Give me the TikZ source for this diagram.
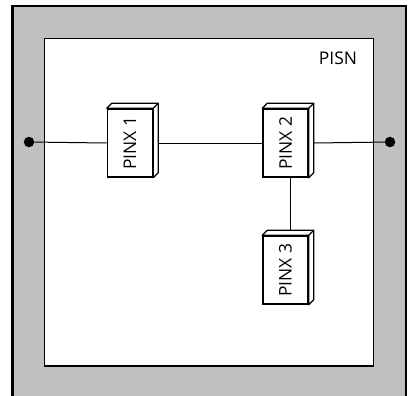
\documentclass[tikz,border=0pt]{standalone}
\usepackage{fontspec}
\setmainfont{Open Sans}
\usetikzlibrary{backgrounds}
\definecolor{frame}{HTML}{C0C0C0}
\tikzset{
  label font/.style={font=\fontsize{17.5}{20}\selectfont},
  pinx/.style={draw, line width=1.5bp, fill=white, minimum width=45bp,
    minimum height=68bp, inner sep=0pt, label font},
  link/.style={line width=1bp},
  term/.style={circle, fill=black, inner sep=0pt, minimum size=10.5bp},
  depth/.style={draw, line width=1.2bp, fill=white, line join=round}
}
% draws the top and right faces of a box node
\newcommand{\boxfaces}[1]{%
  \path[depth] (#1.north west) -- ++(5,-5) -- ([shift={(5bp,5bp)}]#1.north east)
    -- ([shift={(5bp,5bp)}]#1.south east) -- (#1.south east) -- (#1.north east) -- cycle;
  \draw[line width=1.2bp] (#1.north east) -- ++(5,-5);
}
\begin{document}
\begin{tikzpicture}[x=1bp,y=-1bp]
  \useasboundingbox (0,0) rectangle (409,396);
  \clip (0,0) rectangle (409,396);

  % exchanges
  \node[pinx] (p1) at (130,143) {\rotatebox{90}{PINX 1}};
  \node[pinx] (p2) at (285.5,143) {\rotatebox{90}{PINX 2}};
  \node[pinx] (p3) at (285.5,270) {\rotatebox{90}{PINX 3}};
  \boxfaces{p1}
  \boxfaces{p2}
  \boxfaces{p3}

  % end points
  \node[term] (t1) at (29,142) {};
  \node[term] (t2) at (390,142) {};

  \node[label font] (pisn) at (338,58) {PISN};

  \begin{scope}[on background layer]
    \draw[line width=2bp, fill=frame] (12.5,5.5) rectangle (405.5,420);
    \draw[line width=1.8bp, fill=white] (44.5,38.5) rectangle (373.5,366);
    \draw[link] (t1) -- (p1.west);
    \draw[link] (p1.east) -- (p2.west);
    \draw[link] ([xshift=5bp]p2.east) -- (t2);
    \draw[link] ([xshift=4.5bp]p2.south) -- ([xshift=4.5bp]p3.north);
  \end{scope}
\end{tikzpicture}
\end{document}
